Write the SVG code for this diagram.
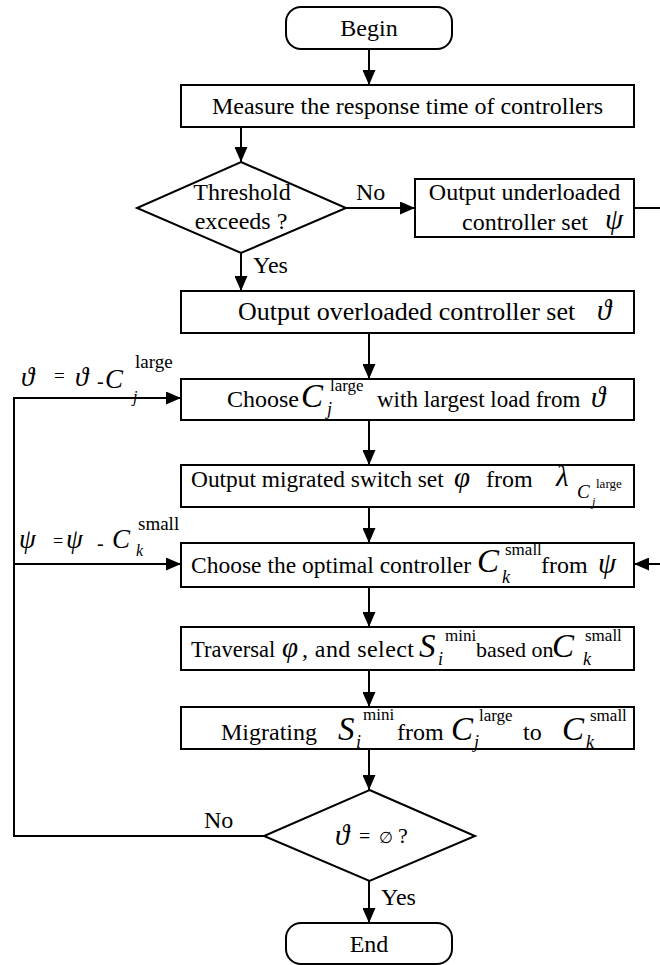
<svg xmlns="http://www.w3.org/2000/svg" width="660" height="965" viewBox="0 0 660 965">
<defs>
<marker id="ah" markerUnits="userSpaceOnUse" markerWidth="16" markerHeight="13" refX="15" refY="6.5" orient="auto"><path d="M0,0 L15,6.5 L0,13 z" fill="#000"/></marker>
<style>
.box{fill:#fff;stroke:#000;stroke-width:2}
.ar{fill:none;stroke:#000;stroke-width:2;marker-end:url(#ah)}
text{font-family:"Liberation Serif","Times New Roman",serif;font-size:24px;fill:#000}
.m{font-style:italic;font-size:29px}
.C{font-style:italic;font-size:33px}
.sup{font-size:17px}
.sub{font-style:italic;font-size:18px}
</style>
</defs>
<rect width="660" height="965" fill="#fff"/>
<g id="connectors">
<path class="ar" d="M369,49 V85"/>
<path class="ar" d="M241,127 V162"/>
<path class="ar" d="M346,208 H415"/>
<path class="ar" d="M241,253 V291"/>
<path class="ar" d="M369,333 V379"/>
<path class="ar" d="M369,420 V465"/>
<path class="ar" d="M369,507 V543"/>
<path class="ar" d="M369,587 V627"/>
<path class="ar" d="M369,670 V707"/>
<path class="ar" d="M369,749 V790"/>
<path class="ar" d="M369,881 V923"/>
<path class="ar" d="M264,836 H14 V398 H181"/>
<path class="ar" d="M14,564 H181"/>
<path class="ar" d="M634,208 H670 V564 H634"/>
<text x="356" y="200">No</text>
<text x="253" y="273">Yes</text>
<text x="204" y="828">No</text>
<text x="381" y="905">Yes</text>
<g id="label-theta">
<text class="m" x="21" y="386" style="font-size:27px">ϑ</text>
<text x="54" y="382" style="font-size:19px">=</text>
<text class="m" x="75" y="386" style="font-size:27px">ϑ</text>
<text x="97" y="388" style="font-size:20px">-</text>
<text class="C" x="105" y="388" style="font-size:27px">C</text>
<text class="sup" x="135" y="368" style="font-size:19px">large</text>
<text class="sub" x="133" y="402" style="font-size:16px">j</text>
</g>
<g id="label-psi">
<text class="m" x="19" y="548" style="font-size:27px">ψ</text>
<text x="53" y="547" style="font-size:18px">=</text>
<text class="m" x="66" y="548" style="font-size:27px">ψ</text>
<text x="97" y="550" style="font-size:20px">-</text>
<text class="C" x="112" y="548" style="font-size:27px">C</text>
<text class="sup" x="138" y="530" style="font-size:19px">small</text>
<text class="sub" x="136" y="556" style="font-size:16px">k</text>
</g>
</g>
<g id="begin">
<rect class="box" x="286" y="7" width="166" height="42" rx="15"/>
<text x="369" y="36" text-anchor="middle">Begin</text>
</g>
<g id="measure">
<rect class="box" x="181" y="85" width="453" height="42"/>
<text x="407.5" y="114" text-anchor="middle">Measure the response time of controllers</text>
</g>
<g id="threshold">
<path class="box" d="M241,162 L346,208 L241,253 L137,208 Z"/>
<text x="242" y="200" text-anchor="middle">Threshold</text>
<text x="241" y="229" text-anchor="middle">exceeds ?</text>
</g>
<g id="underloaded">
<rect class="box" x="415" y="179" width="219" height="58"/>
<text x="524.5" y="200" text-anchor="middle">Output underloaded</text>
<text x="462" y="230">controller set</text>
<text class="m" x="605" y="229">ψ</text>
</g>
<g id="overloaded">
<rect class="box" x="181" y="291" width="453" height="42"/>
<text x="238" y="320" style="font-size:26px">Output overloaded controller set</text>
<text class="m" x="597" y="320">ϑ</text>
</g>
<g id="choose-large">
<rect class="box" x="181" y="379" width="453" height="41"/>
<text x="227" y="407">Choose</text>
<text class="C" x="301" y="407">C</text>
<text class="sup" x="330" y="391">large</text>
<text class="sub" x="327" y="415">j</text>
<text x="377" y="407" style="font-size:23px">with largest load from</text>
<text class="m" x="591" y="407">ϑ</text>
</g>
<g id="migrated">
<rect class="box" x="181" y="465" width="453" height="42"/>
<text x="191" y="487" style="font-size:23.4px">Output migrated switch set</text>
<text class="m" x="454" y="487">φ</text>
<text x="486" y="487">from</text>
<text class="m" x="556" y="486">λ</text>
<text class="C" x="577" y="498" style="font-size:19px">C</text>
<text class="sup" x="596" y="488" style="font-size:13px">large</text>
<text class="sub" x="592" y="506" style="font-size:12px">j</text>
</g>
<g id="choose-small">
<rect class="box" x="181" y="543" width="453" height="44"/>
<text x="191" y="573" style="font-size:23.5px">Choose the optimal controller</text>
<text class="C" x="477" y="572">C</text>
<text class="sup" x="505" y="555">small</text>
<text class="sub" x="502" y="583">k</text>
<text x="541" y="573">from</text>
<text class="m" x="598" y="573">ψ</text>
</g>
<g id="traversal">
<rect class="box" x="181" y="627" width="453" height="43"/>
<text x="191" y="657" style="font-size:22.5px">Traversal</text>
<text class="m" x="282" y="657">φ</text>
<text x="302" y="657" style="font-size:24px" textLength="112" lengthAdjust="spacing">, and select</text>
<text class="C" x="419" y="657">S</text>
<text class="sup" x="445" y="641">mini</text>
<text class="sub" x="438" y="665">i</text>
<text x="476" y="657" style="font-size:22px">based on</text>
<text class="C" x="552" y="657">C</text>
<text class="sup" x="585" y="641">small</text>
<text class="sub" x="583" y="665">k</text>
</g>
<g id="migrating">
<rect class="box" x="181" y="707" width="453" height="42"/>
<text x="221" y="740">Migrating</text>
<text class="C" x="338" y="740">S</text>
<text class="sup" x="363" y="720">mini</text>
<text class="sub" x="356" y="748">i</text>
<text x="397" y="740">from</text>
<text class="C" x="451" y="740">C</text>
<text class="sup" x="479" y="721">large</text>
<text class="sub" x="474" y="748">j</text>
<text x="523" y="740">to</text>
<text class="C" x="562" y="740">C</text>
<text class="sup" x="590" y="721">small</text>
<text class="sub" x="586" y="748">k</text>
</g>
<g id="empty-check">
<path class="box" d="M369.5,790 L475,836 L369.5,881 L264,836 Z"/>
<text class="m" x="335" y="845">ϑ</text>
<text x="359" y="843" style="font-size:20px">=</text>
<text x="379" y="843" style="font-size:16px">∅</text>
<text x="398" y="843" style="font-size:22px">?</text>
</g>
<g id="end">
<rect class="box" x="286" y="923" width="166" height="41" rx="15"/>
<text x="369" y="952" text-anchor="middle">End</text>
</g>
</svg>
